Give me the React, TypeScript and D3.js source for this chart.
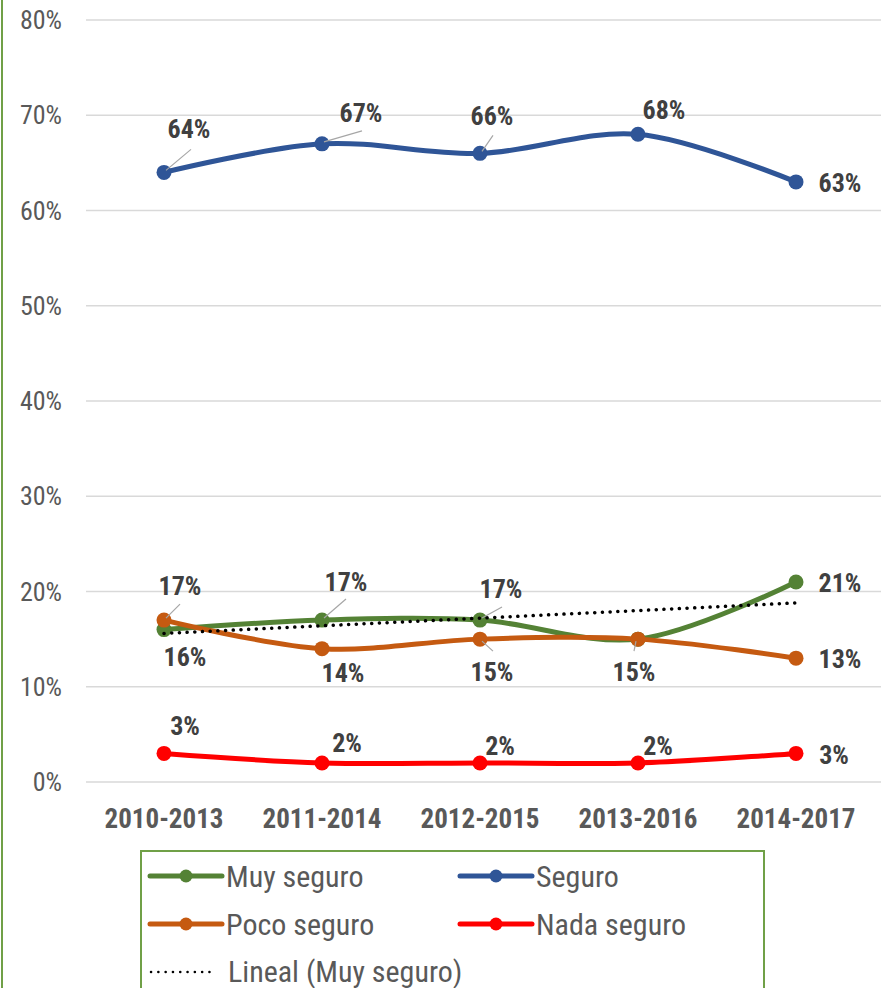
import React from "react";
import * as d3 from "d3";

const categories = ["2010-2013", "2011-2014", "2012-2015", "2013-2016", "2014-2017"];
const muySeguro = [16, 17, 17, 15, 21];
const seguro = [64, 67, 66, 68, 63];
const pocoSeguro = [17, 14, 15, 15, 13];
const nadaSeguro = [3, 2, 2, 2, 3];
const yTicks = [0, 10, 20, 30, 40, 50, 60, 70, 80];

const W = 881;
const H = 988;
const FONT = "'Liberation Sans Narrow', 'Arial Narrow', 'Roboto Condensed', 'Liberation Sans', sans-serif";

type Lbl = { dx: number; dy: number; show: boolean; leader?: [number, number] };

const seriesDefs = [
  {
    name: "Muy seguro", values: muySeguro, color: "#548235",
    labels: [
      { dx: 21, dy: 36, show: true },
      { dx: 24, dy: -29, show: true, leader: [24, -21] },
      { dx: 21, dy: -22, show: true, leader: [22, -13] },
      { dx: 0, dy: 0, show: false },
      { dx: 44, dy: 10, show: true },
    ] as Lbl[],
  },
  {
    name: "Seguro", values: seguro, color: "#2F5597",
    labels: [
      { dx: 25, dy: -34, show: true, leader: [27, -23] },
      { dx: 39, dy: -22, show: true, leader: [40, -13] },
      { dx: 12, dy: -28, show: true, leader: [13, -18] },
      { dx: 26, dy: -15, show: true },
      { dx: 44, dy: 10, show: true },
    ] as Lbl[],
  },
  {
    name: "Poco seguro", values: pocoSeguro, color: "#C55A11",
    labels: [
      { dx: 16, dy: -25, show: true, leader: [16, -16] },
      { dx: 21, dy: 33, show: true },
      { dx: 12, dy: 42, show: true, leader: [13, 12] },
      { dx: -4, dy: 42, show: true, leader: [-4, 12] },
      { dx: 44, dy: 10, show: true },
    ] as Lbl[],
  },
  {
    name: "Nada seguro", values: nadaSeguro, color: "#FF0000",
    labels: [
      { dx: 21, dy: -18, show: true },
      { dx: 25, dy: -11, show: true },
      { dx: 20, dy: -8, show: true },
      { dx: 20, dy: -8, show: true },
      { dx: 38, dy: 11, show: true },
    ] as Lbl[],
  },
];

export default function App() {
  const x = d3.scalePoint<string>().domain(categories).range([164, 796]);
  const y = d3.scaleLinear().domain([0, 80]).range([782, 20]);

  const line = d3
    .line<number>()
    .x((_, i) => x(categories[i]) as number)
    .y((v) => y(v))
    .curve(d3.curveCatmullRom.alpha(0.5));

  // linear trend of Muy seguro
  const n = muySeguro.length;
  const xs = muySeguro.map((_, i) => i + 1);
  const mx = d3.mean(xs) as number;
  const my = d3.mean(muySeguro) as number;
  const slope =
    d3.sum(xs.map((xi, i) => (xi - mx) * (muySeguro[i] - my))) /
    d3.sum(xs.map((xi) => (xi - mx) ** 2));
  const icpt = my - slope * mx;
  const t0 = icpt + slope * 1;
  const t1 = icpt + slope * n;

  return (
    <svg width={W} height={H} style={{ position: "absolute", left: 0, top: 0, background: "#fff" }} fontFamily={FONT}>
      <rect x={0} y={0} width={W} height={H} fill="#fff" />
      {/* left chart border */}
      <line x1={2} x2={2} y1={0} y2={H} stroke="#70A047" strokeWidth={2} />
      {/* gridlines */}
      {yTicks.map((t) => (
        <line key={t} x1={86} x2={W} y1={y(t)} y2={y(t)} stroke="#D9D9D9" strokeWidth={1.5} />
      ))}
      {yTicks.map((t) => (
        <text key={"t" + t} x={62} y={y(t) + 9} textAnchor="end" fontSize={26} fill="#595959">
          {t + "%"}
        </text>
      ))}
      {categories.map((c) => (
        <text key={c} x={x(c)} y={828} textAnchor="middle" fontSize={27} fontWeight="bold" fill="#595959">
          {c}
        </text>
      ))}
      {/* series */}
      {seriesDefs.map((s) => (
        <g key={s.name}>
          <path d={line(s.values) as string} fill="none" stroke={s.color} strokeWidth={5} strokeLinecap="round" />
          {s.values.map((v, i) => (
            <circle key={i} cx={x(categories[i])} cy={y(v)} r={7.5} fill={s.color} />
          ))}
        </g>
      ))}
      {/* trendline */}
      <line
        x1={x(categories[0])}
        x2={x(categories[n - 1])}
        y1={y(t0)}
        y2={y(t1)}
        stroke="#000"
        strokeWidth={3.5}
        strokeDasharray="0.1 7.6"
        strokeLinecap="round"
      />
      {/* leaders and labels */}
      {seriesDefs.map((s) =>
        s.values.map((v, i) => {
          const L = s.labels[i];
          if (!L.show) return null;
          const px = x(categories[i]) as number;
          const py = y(v);
          return (
            <g key={s.name + i}>
              {L.leader && (
                <line
                  x1={px + Math.sign(L.leader[0]) * 2}
                  y1={py + Math.sign(L.leader[1]) * 2}
                  x2={px + L.leader[0]}
                  y2={py + L.leader[1]}
                  stroke="#A6A6A6"
                  strokeWidth={1.2}
                />
              )}
              <text x={px + L.dx} y={py + L.dy} textAnchor="middle" fontSize={26} fontWeight="bold" fill="#404040">
                {v + "%"}
              </text>
            </g>
          );
        })
      )}
      {/* legend */}
      <rect x={141} y={851} width={623} height={160} fill="#fff" stroke="#70A047" strokeWidth={2} />
      {seriesDefs.map((s, i) => {
        const col = i % 2;
        const row = Math.floor(i / 2);
        const lx = col === 0 ? 150 : 460;
        const ly = 876 + row * 48;
        return (
          <g key={"lg" + s.name}>
            <line x1={lx} x2={lx + 72} y1={ly} y2={ly} stroke={s.color} strokeWidth={5} strokeLinecap="round" />
            <circle cx={lx + 36} cy={ly} r={6.5} fill={s.color} />
            <text x={lx + 76} y={ly + 11} fontSize={30} fill="#595959">
              {s.name}
            </text>
          </g>
        );
      })}
      <line x1={151} x2={210} y1={972} y2={972} stroke="#000" strokeWidth={2.5} strokeDasharray="0.1 7.2" strokeLinecap="round" />
      <text x={228} y={982} fontSize={30} fill="#595959">
        Lineal (Muy seguro)
      </text>
    </svg>
  );
}
